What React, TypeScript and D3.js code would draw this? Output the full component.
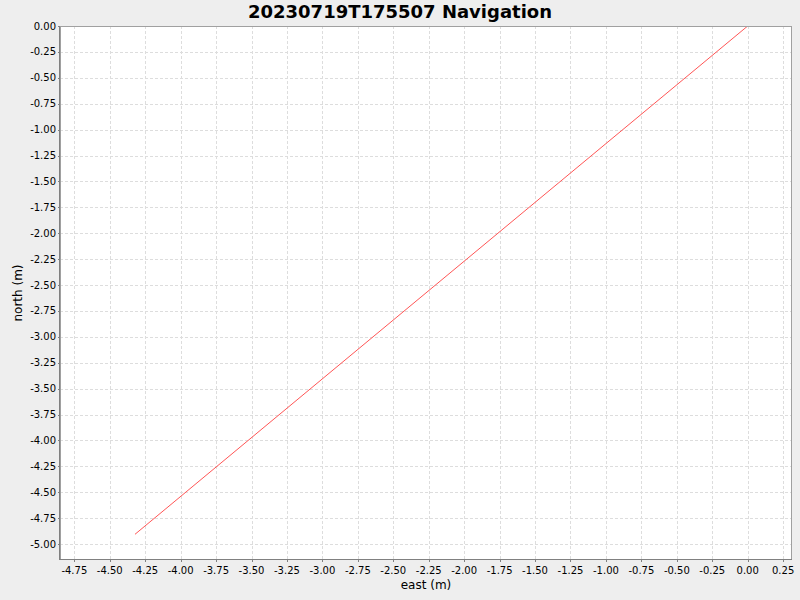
import React from "react";
import * as d3 from "d3";

const TITLE = "20230719T175507 Navigation";
const eastValues = [0.0, -4.322];
const northValues = [0.0, -4.906];
const xDomain = [-4.851, 0.3125];
const yDomain = [-5.154, 0.0];
const xTickValues = d3.range(-19, 2).map((i) => i * 0.25);
const yTickValues = d3.range(0, -21, -1).map((i) => i * 0.25);

const W = 800, H = 600;
const L = 60, T = 26, R = 792, B = 560;
const FONT = "DejaVu Sans, sans-serif";

export default function App() {
  const x = d3.scaleLinear().domain(xDomain).range([L, R]);
  const y = d3.scaleLinear().domain(yDomain).range([B, T]);
  const pts = eastValues.map((e, i) => [e, northValues[i]] as [number, number]);
  const line = d3.line<[number, number]>().x((d) => x(d[0])).y((d) => y(d[1]));
  return (
    <svg width={W} height={H} style={{ position: "absolute", left: 0, top: 0 }} fontFamily={FONT}>
      <rect x={0} y={0} width={W} height={H} fill="#eeeeee" />
      <text x={400} y={18} textAnchor="middle" fontSize={18} fontWeight="bold" fill="#000">{TITLE}</text>
      <rect x={L} y={T} width={R - L} height={B - T} fill="#ffffff" />
      <defs>
        <clipPath id="plotclip"><rect x={L} y={T} width={R - L} height={B - T} /></clipPath>
      </defs>
      {xTickValues.map((v) => (
        <line key={"gx" + v} x1={Math.round(x(v)) + 0.5} x2={Math.round(x(v)) + 0.5} y1={T} y2={B} stroke="#dddddd" strokeWidth={1} strokeDasharray="3,2" />
      ))}
      {yTickValues.map((v) => (
        <line key={"gy" + v} x1={L} x2={R} y1={Math.round(y(v)) + 0.5} y2={Math.round(y(v)) + 0.5} stroke="#dddddd" strokeWidth={1} strokeDasharray="3,2" />
      ))}
      <path d={line(pts) || ""} fill="none" stroke="#ff5555" strokeWidth={1} clipPath="url(#plotclip)" />
      <rect x={L + 0.5} y={T + 0.5} width={R - L - 1} height={B - T - 1} fill="none" stroke="#a0a0a0" strokeWidth={1} />
      <line x1={L} x2={R} y1={B - 0.5} y2={B - 0.5} stroke="#808080" />
      <line x1={L - 0.5} x2={L - 0.5} y1={T} y2={B} stroke="#808080" />
      {xTickValues.map((v) => (
        <g key={"tx" + v}>
          <line x1={Math.round(x(v)) + 0.5} x2={Math.round(x(v)) + 0.5} y1={B} y2={B + 2} stroke="#808080" />
          <text x={x(v)} y={574} textAnchor="middle" fontSize={10} fill="#000">{v.toFixed(2)}</text>
        </g>
      ))}
      {yTickValues.map((v) => (
        <g key={"ty" + v}>
          <line x1={L - 2} x2={L} y1={Math.round(y(v)) + 0.5} y2={Math.round(y(v)) + 0.5} stroke="#808080" />
          <text x={56} y={y(v) + 3.5} textAnchor="end" fontSize={10} fill="#000">{(v === 0 ? 0 : v).toFixed(2)}</text>
        </g>
      ))}
      <text x={(L + R) / 2} y={589} textAnchor="middle" fontSize={12} fill="#000">east (m)</text>
      <text transform={`translate(22,${(T + B) / 2}) rotate(-90)`} textAnchor="middle" fontSize={12} fill="#000">north (m)</text>
    </svg>
  );
}
